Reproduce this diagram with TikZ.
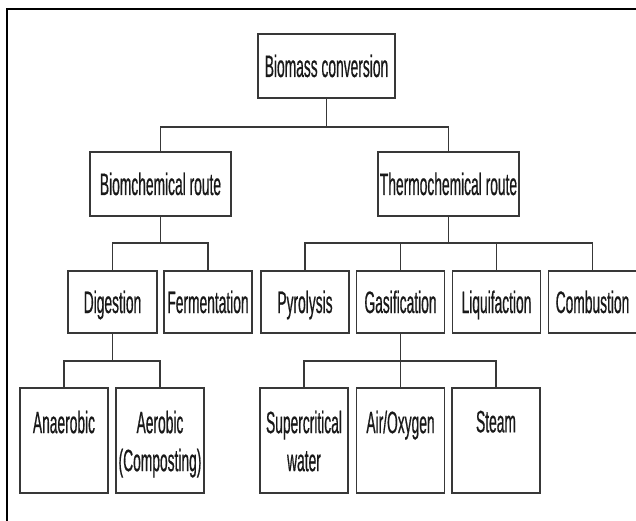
\documentclass[tikz,border=0pt]{standalone}
\usepackage{fontspec}
\setmainfont[FakeStretch=0.445,FakeBold=0.5]{Liberation Sans}
\begin{document}
\begin{tikzpicture}[x=1pt,y=-1pt,
  box/.style={draw=black!78,line width=1.1pt,fill=white,inner sep=0pt,
    font=\fontsize{31}{38}\selectfont,text=black!90,text height=22pt,text depth=0pt,
    minimum height=#1},
  box/.default=64pt,
  leaf/.style={draw=black!78,line width=1.1pt,minimum width=88pt,minimum height=105pt,inner sep=0pt},
  leaftext/.style={anchor=north,inner sep=0pt,align=center,
    font=\fontsize{31}{38}\selectfont,text=black!90},
  conn/.style={draw=black!78,line width=1.1pt}]
\useasboundingbox (0,0) rectangle (636,521);
\draw[line width=2.6pt] (7,521) -- (7,9) -- (636,9);
% level 1
\node[box,minimum width=137pt] (bc) at (326.5,66) {Biomass conversion};
% level 2
\node[box,minimum width=141pt] (bio) at (160.5,184) {Biomchemical route};
\node[box,minimum width=141pt] (thermo) at (448.5,184) {Thermochemical route};
% level 3
\node[box=62pt,minimum width=89pt] (dig) at (112.5,302) {Digestion};
\node[box=62pt,minimum width=88pt] (fer) at (208,302) {Fermentation};
\node[box=62pt,minimum width=88pt] (pyr) at (305,302) {Pyrolysis};
\node[box=62pt,minimum width=88pt] (gas) at (400.5,302) {Gasification};
\node[box=62pt,minimum width=88pt] (liq) at (496.5,302) {Liquifaction};
\node[box=62pt,minimum width=88pt] (com) at (592.5,302) {Combustion};
% level 4
\node[leaf] (ana) at (64,440.5) {};
\node[leaf] (aer) at (160,440.5) {};
\node[leaf] (sup) at (304,440.5) {};
\node[leaf] (air) at (400.5,440.5) {};
\node[leaf] (ste) at (496,440.5) {};
\node[leaftext] (anat) at (64,410.5) {Anaerobic};
\node[leaftext] (aert) at (160,410.5) {Aerobic\\(Composting)};
\node[leaftext] (supt) at (304,410.5) {Supercritical\\water};
\node[leaftext] (airt) at (400.5,410.5) {Air/Oxygen};
\node[leaftext] (stet) at (496,410.5) {Steam};
% junctions
\coordinate (j1) at (326.5,127);
\coordinate (j2) at (160.5,243);
\coordinate (j3) at (448.5,243);
\coordinate (j4) at (112.5,361);
\coordinate (j5) at (400.5,361);
% connectors
\draw[conn] (bc.south) -- (j1);
\draw[conn] (j1) -| (bio.north);
\draw[conn] (j1) -| (thermo.north);
\draw[conn] (bio.south) -- (j2);
\draw[conn] (j2) -| (dig.north);
\draw[conn] (j2) -| (fer.north);
\draw[conn] (thermo.south) -- (j3);
\draw[conn] (j3) -| (pyr.north);
\draw[conn] (j3) -| (gas.north);
\draw[conn] (j3) -| (liq.north);
\draw[conn] (j3) -| (com.north);
\draw[conn] (dig.south) -- (j4);
\draw[conn] (j4) -| (ana.north);
\draw[conn] (j4) -| (aer.north);
\draw[conn] (gas.south) -- (j5);
\draw[conn] (j5) -| (sup.north);
\draw[conn] (j5) -| (air.north);
\draw[conn] (j5) -| (ste.north);
\end{tikzpicture}
\end{document}
